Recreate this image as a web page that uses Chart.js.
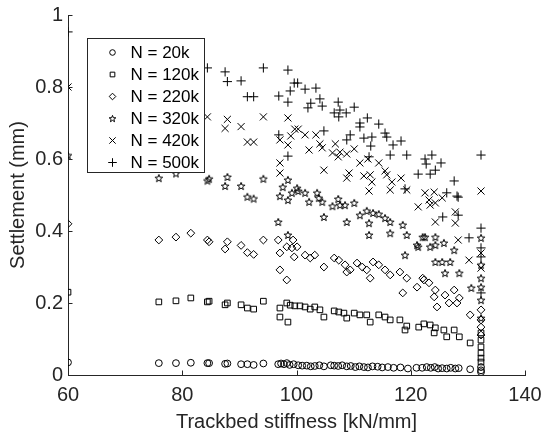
<!DOCTYPE html>
<html>
<head>
<meta charset="utf-8">
<script src="https://cdn.jsdelivr.net/npm/chart.js@4"></script>
<style>
  html, body { margin: 0; padding: 0; background: #fff; }
  canvas { display: block; }
</style>
</head>
<body>
<canvas id="chart" width="544" height="439"></canvas>
<script>
// tick values
const xTicks = [60, 80, 100, 120, 140];
const yTicks = [0, 0.2, 0.4, 0.6, 0.8, 1];

const seriesLabels = ['N = 20k', 'N = 120k', 'N = 220k', 'N = 320k', 'N = 420k', 'N = 500k'];

// N = 20k
const n20kX = [60, 75.9, 78.9, 81.5, 84.4, 84.7, 87.5, 87.9, 90.3, 91.4, 92.5, 94.2,
  96.8, 97.3, 97.8, 98.3, 98.8, 99.5, 100.3, 101.0, 101.8, 102.5, 103.2, 104.0, 104.8,
  106.0, 106.6, 107.3, 108.0, 108.8, 109.5, 110.3, 111.0, 111.8, 112.5, 113.3, 114.2,
  115.0, 116.0, 117.0, 118.2, 119.5, 121.0, 122.0, 122.8, 123.5, 124.2, 124.8, 125.5,
  126.3, 127.0, 127.8, 128.4, 130.4, 132.3, 132.3, 132.3];
const n20kY = [0.035, 0.033, 0.033, 0.034, 0.033, 0.033, 0.031, 0.032, 0.030, 0.030, 0.028, 0.032,
  0.030, 0.032, 0.030, 0.033, 0.028, 0.030, 0.027, 0.026, 0.026, 0.024, 0.025, 0.027, 0.024,
  0.027, 0.026, 0.025, 0.027, 0.024, 0.025, 0.022, 0.024, 0.022, 0.021, 0.024, 0.023,
  0.021, 0.022, 0.020, 0.021, 0.018, 0.020, 0.020, 0.022, 0.020, 0.022, 0.018, 0.019,
  0.018, 0.020, 0.018, 0.019, 0.016, 0.022, 0.013, 0.008];

// N = 120k
const n120kX = [60, 75.9, 78.9, 81.5, 84.4, 84.7, 87.5, 87.9, 90.3, 91.4, 92.5, 94.2,
  97.1, 97.1, 98.3, 98.5, 98.9, 99.7, 100.6, 101.5, 102.4, 103.2, 104.1, 104.8,
  106.6, 107.4, 108.3, 108.8, 110.1, 111.1, 112.3, 112.9, 114.4, 115.5, 116.4,
  118.1, 119.0, 119.3, 121.4, 122.3, 123.4, 124.1, 124.3, 125.8, 126.3, 127.6,
  128.5, 130.4, 132.3, 132.3, 132.3, 132.3, 132.3, 132.3];
const n120kY = [0.230, 0.203, 0.206, 0.214, 0.203, 0.205, 0.195, 0.200, 0.195, 0.186, 0.183, 0.205,
  0.186, 0.161, 0.200, 0.147, 0.194, 0.192, 0.192, 0.189, 0.183, 0.189, 0.181, 0.161,
  0.178, 0.175, 0.172, 0.158, 0.172, 0.167, 0.167, 0.147, 0.167, 0.161, 0.153,
  0.153, 0.125, 0.136, 0.133, 0.142, 0.139, 0.117, 0.131, 0.125, 0.106, 0.125,
  0.106, 0.089, 0.117, 0.097, 0.078, 0.061, 0.047, 0.036];

// N = 220k
const n220kX = [60, 75.9, 78.9, 81.5, 84.4, 84.7, 87.5, 87.9, 90.3, 91.4, 92.5, 94.2,
  96.8, 97.1, 97.1, 98.3, 98.3, 99.2, 99.4, 99.6, 100.1, 101.5, 102.4, 103.2, 104.8,
  106.6, 107.4, 108.5, 108.8, 109.4, 110.6, 111.5, 112.3, 112.9, 113.4, 114.4,
  115.5, 116.4, 118.1, 118.6, 119.3, 121.1, 122.1, 122.3, 123.2, 124.1, 124.3,
  124.6, 126.0, 126.7, 127.6, 128.1, 128.5, 130.4, 132.3, 132.3, 132.3, 132.3];
const n220kY = [0.420, 0.375, 0.383, 0.394, 0.375, 0.370, 0.350, 0.370, 0.360, 0.340, 0.335, 0.375,
  0.375, 0.339, 0.292, 0.356, 0.264, 0.353, 0.375, 0.328, 0.356, 0.333, 0.325, 0.333, 0.300,
  0.325, 0.319, 0.306, 0.286, 0.292, 0.311, 0.300, 0.292, 0.269, 0.314, 0.306,
  0.292, 0.278, 0.286, 0.228, 0.269, 0.244, 0.269, 0.264, 0.256, 0.217, 0.236,
  0.189, 0.222, 0.200, 0.236, 0.200, 0.214, 0.167, 0.181, 0.153, 0.133, 0.111];

// N = 320k
const n320kX = [60, 75.9, 78.9, 81.5, 84.4, 84.7, 87.5, 87.9, 90.3, 91.4, 92.5, 94.2,
  96.8, 97.1, 97.6, 98.5, 98.5, 98.5, 99.2, 100.1, 100.3, 101.5, 102.2, 103.6, 103.9,
  104.5, 104.8, 106.3, 107.3, 107.6, 108.5, 108.8, 110.1, 111.1, 112.3, 112.7, 112.7,
  113.4, 114.4, 115.5, 116.4, 116.4, 118.6, 119.3, 119.0, 121.1, 121.3, 122.1, 122.5,
  123.4, 124.3, 124.3, 124.3, 125.5, 125.8, 126.0, 126.9, 127.6, 128.5, 130.6,
  132.3, 132.3, 132.3, 132.3, 132.3, 132.3];
const n320kY = [0.610, 0.547, 0.560, 0.580, 0.540, 0.545, 0.525, 0.550, 0.525, 0.495, 0.490, 0.545,
  0.425, 0.497, 0.522, 0.542, 0.486, 0.389, 0.506, 0.519, 0.511, 0.506, 0.481, 0.506, 0.492,
  0.481, 0.439, 0.469, 0.489, 0.472, 0.472, 0.425, 0.478, 0.444, 0.456, 0.422, 0.389,
  0.450, 0.447, 0.436, 0.425, 0.394, 0.417, 0.389, 0.333, 0.361, 0.356, 0.383, 0.383,
  0.356, 0.383, 0.361, 0.314, 0.314, 0.367, 0.283, 0.314, 0.347, 0.283, 0.242,
  0.381, 0.306, 0.269, 0.244, 0.208, 0.158];

// N = 420k
const n420kX = [60, 75.9, 78.9, 81.5, 84.4, 87.5, 87.9, 90.3, 91.4, 92.5, 94.2,
  97.1, 97.1, 97.1, 98.5, 98.5, 99.0, 99.7, 100.3, 101.5, 102.2, 103.4, 104.1, 104.5,
  104.8, 106.3, 106.8, 107.3, 107.6, 108.8, 108.8, 109.2, 110.1, 111.1, 111.8, 112.5,
  112.7, 112.9, 113.2, 114.4, 115.5, 115.8, 116.4, 116.7, 118.3, 119.3, 121.3, 122.5,
  123.2, 123.4, 124.1, 124.3, 124.3, 125.5, 127.8, 127.8, 128.3, 130.2,
  132.3, 132.3, 132.3];
const n420kY = [0.800, 0.710, 0.720, 0.730, 0.717, 0.685, 0.710, 0.690, 0.647, 0.647, 0.717,
  0.653, 0.561, 0.589, 0.714, 0.639, 0.664, 0.683, 0.683, 0.667, 0.625, 0.667, 0.642, 0.631,
  0.569, 0.617, 0.642, 0.606, 0.619, 0.614, 0.547, 0.561, 0.628, 0.589, 0.553, 0.600,
  0.511, 0.556, 0.536, 0.589, 0.567, 0.556, 0.514, 0.536, 0.547, 0.514, 0.467, 0.506,
  0.486, 0.472, 0.508, 0.478, 0.425, 0.492, 0.453, 0.422, 0.375, 0.319,
  0.511, 0.339, 0.297];

// N = 500k
const n500kX = [60, 75.9, 78.9, 81.5, 84.4, 87.5, 87.9, 90.3, 91.4, 92.5, 94.2,
  96.9, 96.9, 98.5, 98.5, 98.5, 98.9, 99.6, 100.2, 101.5, 102.0, 102.5, 103.4, 104.1,
  104.5, 104.8, 106.6, 107.3, 107.4, 107.6, 108.7, 108.8, 109.4, 110.1, 111.1, 111.1,
  111.8, 112.4, 112.7, 113.0, 113.2, 114.4, 115.5, 115.8, 116.4, 116.9, 118.3, 119.0,
  119.3, 121.3, 122.5, 122.7, 123.4, 123.7, 124.3, 125.3, 125.6, 126.3, 127.6, 128.1,
  128.3, 128.3, 130.2, 132.3, 132.3, 132.3, 132.3, 132.3];
const n500kY = [0.953, 0.860, 0.870, 0.880, 0.853, 0.842, 0.815, 0.817, 0.773, 0.773, 0.853,
  0.775, 0.667, 0.847, 0.758, 0.608, 0.789, 0.811, 0.811, 0.794, 0.742, 0.755, 0.797, 0.767,
  0.747, 0.678, 0.728, 0.758, 0.717, 0.736, 0.728, 0.653, 0.667, 0.744, 0.700, 0.689,
  0.658, 0.714, 0.606, 0.636, 0.661, 0.697, 0.672, 0.661, 0.611, 0.639, 0.650, 0.517,
  0.611, 0.558, 0.600, 0.586, 0.558, 0.611, 0.569, 0.589, 0.439, 0.506, 0.539, 0.497,
  0.494, 0.444, 0.381, 0.611, 0.408, 0.353, 0.328, 0.228];

function makePentagram(size) {
  const c = document.createElement('canvas');
  c.width = size;
  c.height = size;
  const g = c.getContext('2d');
  const cx = size / 2, cy = size / 2 + 0.4;
  const R = size / 2 - 1, r = R * 0.42;
  g.beginPath();
  for (let i = 0; i < 10; i++) {
    const a = -Math.PI / 2 + i * Math.PI / 5;
    const d = i % 2 ? r : R;
    g.lineTo(cx + d * Math.cos(a), cy + d * Math.sin(a));
  }
  g.closePath();
  g.strokeStyle = '#000';
  g.lineWidth = 1;
  g.stroke();
  return c;
}

const starImg = makePentagram(10);
const starImgSmall = makePentagram(9);

const toPoints = (xs, ys) => xs.map((x, i) => ({ x: x, y: ys[i] }));

const styles = [
  { pointStyle: 'circle', radius: 3.4, legendRadius: 2.8 },
  { pointStyle: 'rect', radius: 4, legendRadius: 3.3 },
  { pointStyle: 'rectRot', radius: 3.9, legendRadius: 3.3 },
  { pointStyle: starImg, radius: 4, legendStyle: starImgSmall, legendRadius: 4 },
  { pointStyle: 'crossRot', radius: 5, legendRadius: 4.5 },
  { pointStyle: 'cross', radius: 4.6, legendRadius: 4.3 }
];

const allX = [n20kX, n120kX, n220kX, n320kX, n420kX, n500kX];
const allY = [n20kY, n120kY, n220kY, n320kY, n420kY, n500kY];

const datasets = seriesLabels.map((label, i) => ({
  label: label,
  data: toPoints(allX[i], allY[i]),
  showLine: false,
  pointStyle: styles[i].pointStyle,
  pointRadius: styles[i].radius,
  pointBorderWidth: 1,
  pointBorderColor: '#000',
  pointBackgroundColor: 'rgba(0,0,0,0)'
}));

// inward tick marks like the original axes
const innerTicks = {
  id: 'innerTicks',
  afterDatasetsDraw(chart) {
    const { ctx, chartArea, scales } = chart;
    ctx.save();
    ctx.strokeStyle = '#262626';
    ctx.lineWidth = 1;
    ctx.beginPath();
    xTicks.forEach(v => {
      const px = Math.round(scales.x.getPixelForValue(v)) + 0.5;
      ctx.moveTo(px, chartArea.bottom);
      ctx.lineTo(px, chartArea.bottom - 4.5);
    });
    yTicks.forEach(v => {
      const py = Math.round(scales.y.getPixelForValue(v)) + 0.5;
      ctx.moveTo(chartArea.left, py);
      ctx.lineTo(chartArea.left + 4.5, py);
    });
    ctx.stroke();
    ctx.restore();
  }
};

// boxed legend inside the axes
const boxLegend = {
  id: 'boxLegend',
  afterDraw(chart) {
    const { ctx, chartArea } = chart;
    const left = chartArea.left + 19.5;
    const top = chartArea.top + 23.5;
    const w = 117, h = 134;
    ctx.save();
    ctx.fillStyle = '#fff';
    ctx.fillRect(left, top, w, h);
    ctx.strokeStyle = '#262626';
    ctx.lineWidth = 1;
    ctx.strokeRect(left, top, w, h);
    ctx.font = '17px "Liberation Sans", Arial, sans-serif';
    ctx.textBaseline = 'middle';
    chart.data.datasets.forEach((ds, i) => {
      const y = top + 14 + i * 22;
      ctx.strokeStyle = '#000';
      ctx.fillStyle = 'rgba(0,0,0,0)';
      ctx.lineWidth = 1;
      Chart.helpers.drawPoint(ctx, {
        pointStyle: styles[i].legendStyle || styles[i].pointStyle,
        radius: styles[i].legendRadius,
        rotation: 0,
        borderWidth: 1
      }, left + 25, y);
      ctx.fillStyle = '#000';
      ctx.fillText(ds.label, left + 43, y + 1);
    });
    ctx.restore();
  }
};

const tickFont = { family: '"Liberation Sans", Arial, sans-serif', size: 20 };

new Chart(document.getElementById('chart'), {
  type: 'scatter',
  data: { datasets: datasets },
  options: {
    responsive: false,
    animation: false,
    events: [],
    layout: { padding: { top: 15, right: 19, left: 0, bottom: 0 } },
    plugins: {
      legend: { display: false },
      tooltip: { enabled: false }
    },
    scales: {
      x: {
        type: 'linear',
        min: 60,
        max: 140,
        afterBuildTicks: s => { s.ticks = xTicks.map(v => ({ value: v })); },
        afterFit: s => { s.height = 64; s.paddingLeft = 0; s.paddingRight = 0; },
        grid: { display: true, drawOnChartArea: false, drawTicks: false },
        border: { display: true, color: '#262626', width: 1 },
        ticks: { font: tickFont, color: '#262626', padding: 8, maxRotation: 0, callback: v => String(v) },
        title: {
          display: true,
          text: 'Trackbed stiffness [kN/mm]',
          font: tickFont,
          color: '#262626',
          padding: { top: 0, bottom: 5 }
        }
      },
      y: {
        type: 'linear',
        min: 0,
        max: 1,
        afterBuildTicks: s => { s.ticks = yTicks.map(v => ({ value: v })); },
        afterFit: s => { s.width = 68; s.paddingTop = 0; s.paddingBottom = 0; },
        grid: { display: true, drawOnChartArea: false, drawTicks: false },
        border: { display: true, color: '#262626', width: 1 },
        ticks: { font: tickFont, color: '#262626', padding: 5, callback: v => String(v) },
        title: {
          display: true,
          text: 'Settlement (mm)',
          font: tickFont,
          color: '#262626',
          padding: { top: 6, bottom: 0 }
        }
      }
    }
  },
  plugins: [innerTicks, boxLegend]
});
</script>
</body>
</html>
